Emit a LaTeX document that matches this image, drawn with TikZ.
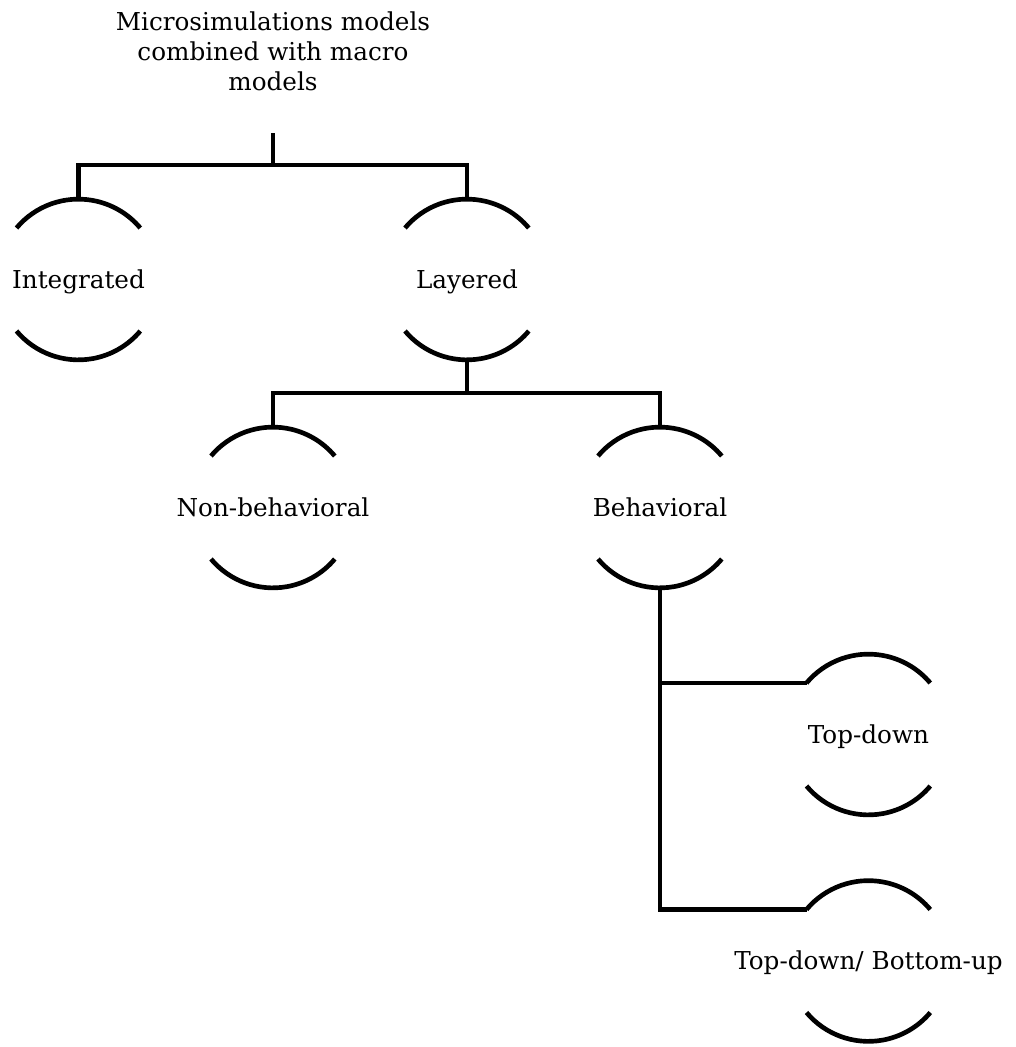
\documentclass[tikz,border=0pt]{standalone}
\usepackage{fontspec}
\setmainfont{DejaVu Serif}
\tikzset{
  heading/.style={align=center, inner sep=0pt},
  leaf/.style={minimum width=93pt, minimum height=120.75pt, inner sep=0pt, outer sep=0pt, text height=14pt, text depth=1.2pt},
}
\newcommand{\capsarcs}[1]{%
  \draw ([shift={(-62,51.5)}]#1.center) coordinate (#1-l) arc [start angle=140, end angle=40, radius=80.8];
  \draw ([shift={(-62,-51.5)}]#1.center) arc [start angle=220, end angle=320, radius=80.8];}

\begin{document}
\begin{tikzpicture}[x=0.75pt, y=0.75pt, line width=3.5pt, font=\fontsize{18.5}{22.5}\selectfont]
\useasboundingbox (0,0) rectangle (1015,-1047);
\node [heading] (top) at (273,-51.7) {Microsimulations models\\combined with macro\\models};

\node [leaf] (int) at (78.5,-279.5) {Integrated};
\node [leaf] (lay) at (467,-279.5) {Layered};
\node [leaf] (non) at (273,-507.5) {Non-behavioral};
\node [leaf] (beh) at (660,-507.5) {Behavioral};
\node [leaf] (td) at (868.5,-734.5) {Top-down};
\node [leaf] (tdbu) at (868.5,-961) {Top-down/ Bottom-up};

\capsarcs{int}
\capsarcs{lay}
\capsarcs{non}
\capsarcs{beh}
\capsarcs{td}
\capsarcs{tdbu}

\coordinate (root) at (273,-133);
\coordinate (fork1) at (273,-165);
\draw (root) -- (fork1);
\draw (int.north) |- (fork1) -| (lay.north);
\draw (lay.south) -- ++(0,-33) coordinate (fork2);
\draw (non.north) |- (fork2) -| (beh.north);
\draw (beh.south) |- (td-l);
\draw (beh.south) |- (tdbu-l);
\end{tikzpicture}
\end{document}
